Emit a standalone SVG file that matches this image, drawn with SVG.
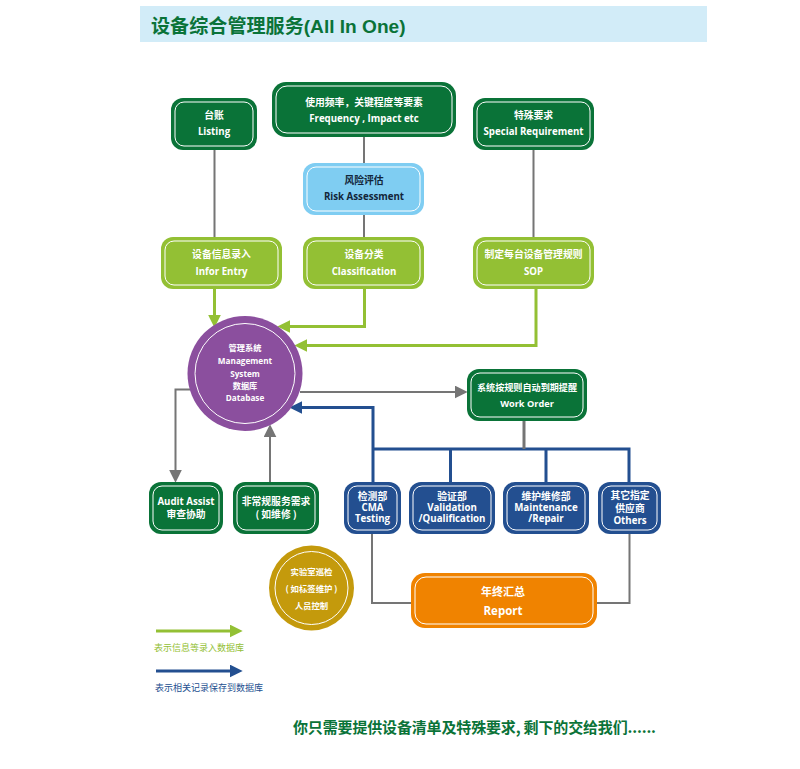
<svg xmlns="http://www.w3.org/2000/svg" width="800" height="769" viewBox="0 0 800 769">
<style>
text{font-family:"Open Sans","Noto Sans CJK SC",sans-serif;font-weight:700;fill:#fff;text-anchor:middle}
.c{font-family:"Noto Sans CJK SC",sans-serif;font-weight:700;font-size:9.800px}
.l{font-size:9.700px}
.in{fill:none;stroke:#fff;stroke-width:1}
.dg{fill:#0a7338}.lg{fill:#93c034}.sb{fill:#7fcdf2}.bl{fill:#234f90}.or{fill:#f08300}
.line{fill:none;stroke-width:2}
.gray{stroke:#757575}.green{stroke:#93c034;stroke-width:3}.blue{stroke:#234f90;stroke-width:3}
</style>
<defs>
<marker id="ag" markerUnits="userSpaceOnUse" markerWidth="13" markerHeight="13" viewBox="0 0 12 12" refX="4" refY="6" orient="auto"><path d="M0 0L12 6L0 12z" fill="#757575"/></marker>
<marker id="al" markerUnits="userSpaceOnUse" markerWidth="13" markerHeight="13" viewBox="0 0 12 12" refX="4" refY="6" orient="auto"><path d="M0 0L12 6L0 12z" fill="#93c034"/></marker>
<marker id="ab" markerUnits="userSpaceOnUse" markerWidth="13" markerHeight="13" viewBox="0 0 12 12" refX="4" refY="6" orient="auto"><path d="M0 0L12 6L0 12z" fill="#234f90"/></marker>
</defs>
<rect width="800" height="769" fill="#fff"/>
<g id="title"><rect x="140" y="6" width="567" height="36" fill="#d2ecf8"/>
<text x="151" y="32.500" style="text-anchor:start;font-family:'Liberation Sans','Noto Sans CJK SC',sans-serif;font-weight:700;font-size:19.100px;fill:#0a7338">设备综合管理服务(All In One)</text></g>
<g id="connectors">
<path class="line gray" d="M214.500 149V237M364 137V163M364 214V237M533.500 149V237"/>
<path class="line green" d="M214.500 289V319" marker-end="url(#al)"/>
<path class="line green" d="M364.500 289V326.500H286" marker-end="url(#al)"/>
<path class="line green" d="M536 289V345.500H303" marker-end="url(#al)"/>
<path class="line gray" d="M300 392H459" marker-end="url(#ag)"/>
<path class="line gray" d="M190 389.500H175.500V474" marker-end="url(#ag)"/>
<path class="line gray" d="M270 482V433" marker-end="url(#ag)"/>
<path class="line blue" d="M373 482V407.500H298" marker-end="url(#ab)"/>
<path class="line blue" d="M373 449H629V482M450.500 449V482M546 449V482"/>
<path class="line gray" style="stroke-width:3" d="M524 421V449"/>
<path class="line gray" d="M372 533V603H411M597 603H629.500V533"/>
</g>
<g id="listing"><rect class="dg" x="171" y="98" width="86" height="52" rx="12"/><rect class="in" x="175" y="102" width="78" height="44" rx="9"/><text class="c" x="214" y="119">台账</text><text class="l" x="214" y="135">Listing</text></g>
<g id="frequency"><rect class="dg" x="272" y="82" width="184" height="55" rx="14"/><rect class="in" x="276" y="86" width="176" height="47" rx="11"/><text class="c" x="364" y="106">使用频率，关键程度等要素</text><text class="l" x="364" y="122">Frequency , Impact etc</text></g>
<g id="special"><rect class="dg" x="473" y="98" width="121" height="52" rx="12"/><rect class="in" x="477" y="102" width="113" height="44" rx="9"/><text class="c" x="533.500" y="119">特殊要求</text><text class="l" x="533.500" y="135">Special Requirement</text></g>
<g id="risk"><rect class="sb" x="303" y="163" width="121" height="52" rx="12"/><rect class="in" x="307" y="167" width="113" height="44" rx="9"/><text class="c" x="364" y="184" style="fill:#12263a">风险评估</text><text class="l" x="364" y="200" style="fill:#12263a">Risk Assessment</text></g>
<g id="infor"><rect class="lg" x="161" y="237" width="121" height="52" rx="12"/><rect class="in" x="165" y="241" width="113" height="44" rx="9"/><text class="c" x="221.500" y="258">设备信息录入</text><text class="l" x="221.500" y="275">Infor Entry</text></g>
<g id="classification"><rect class="lg" x="303" y="237" width="121" height="52" rx="12"/><rect class="in" x="307" y="241" width="113" height="44" rx="9"/><text class="c" x="364" y="258">设备分类</text><text class="l" x="364" y="275">Classification</text></g>
<g id="sop"><rect class="lg" x="473" y="237" width="121" height="52" rx="12"/><rect class="in" x="477" y="241" width="113" height="44" rx="9"/><text class="c" x="533.500" y="258">制定每台设备管理规则</text><text class="l" x="533.500" y="275">SOP</text></g>
<g id="database"><circle cx="245" cy="373.500" r="57.500" fill="#8b4f9e"/><circle class="in" cx="245" cy="373.500" r="50"/>
<text class="c" x="245" y="351" style="font-size:8.200px">管理系统</text><text x="245" y="364" style="font-size:8.200px">Management</text><text x="245" y="376.500" style="font-size:8.200px">System</text><text class="c" x="245" y="388.500" style="font-size:8.200px">数据库</text><text x="245" y="401" style="font-size:8.200px">Database</text></g>
<g id="workorder"><rect class="dg" x="467" y="369" width="120" height="52" rx="12"/><rect class="in" x="471" y="373" width="112" height="44" rx="9"/><text class="c" x="527" y="390.500" style="font-size:9.100px">系统按规则自动到期提醒</text><text class="l" x="527" y="407" style="font-size:9.200px">Work Order</text></g>
<g id="audit"><rect class="dg" x="149" y="482" width="74" height="52" rx="12"/><rect class="in" x="153" y="486" width="66" height="44" rx="9"/><text class="l" x="186" y="504.500">Audit Assist</text><text class="c" x="186" y="517.500">审查协助</text></g>
<g id="unusual"><rect class="dg" x="233" y="482" width="86" height="52" rx="12"/><rect class="in" x="237" y="486" width="78" height="44" rx="9"/><text class="c" x="276" y="504.500">非常规服务需求</text><text class="c" x="276" y="517.500">( 如维修 )</text></g>
<g id="testing"><rect class="bl" x="344" y="482" width="57" height="52" rx="12"/><rect class="in" x="348" y="486" width="49" height="44" rx="9"/><text class="c" x="372.500" y="500">检测部</text><text class="l" x="372.500" y="511">CMA</text><text class="l" x="372.500" y="522">Testing</text></g>
<g id="validation"><rect class="bl" x="409" y="482" width="86" height="52" rx="12"/><rect class="in" x="413" y="486" width="78" height="44" rx="9"/><text class="c" x="452" y="500">验证部</text><text class="l" x="452" y="511">Validation</text><text class="l" x="452" y="522">/Qualification</text></g>
<g id="maintenance"><rect class="bl" x="503" y="482" width="86" height="52" rx="12"/><rect class="in" x="507" y="486" width="78" height="44" rx="9"/><text class="c" x="546" y="500">维护维修部</text><text class="l" x="546" y="511">Maintenance</text><text class="l" x="546" y="522">/Repair</text></g>
<g id="others"><rect class="bl" x="598" y="482" width="63" height="52" rx="12"/><rect class="in" x="602" y="486" width="55" height="44" rx="9"/><text class="c" x="630" y="498.500">其它指定</text><text class="c" x="630" y="511.500">供应商</text><text class="l" x="630" y="524">Others</text></g>
<g id="report"><rect class="or" x="411" y="573" width="186" height="55" rx="14"/><rect class="in" x="415" y="577" width="178" height="47" rx="11"/><text class="c" x="503" y="595.500" style="font-size:11px">年终汇总</text><text class="l" x="503" y="615" style="font-size:11.500px">Report</text></g>
<g id="lab"><circle cx="311.500" cy="588" r="42.500" fill="#c49a0c"/><circle class="in" cx="311.500" cy="588" r="36.500"/>
<text class="c" x="311.500" y="575" style="font-size:8.400px">实验室巡检</text><text class="c" x="311.500" y="591.500" style="font-size:8.400px">( 如标签维护 )</text><text class="c" x="311.500" y="608.500" style="font-size:8.400px">人员控制</text></g>
<g id="legend">
<path class="line green" d="M156 631H234" marker-end="url(#al)"/>
<path class="line blue" d="M156 671H234" marker-end="url(#ab)"/>
<text x="154" y="650.500" style="text-anchor:start;font-family:'Noto Sans CJK SC',sans-serif;font-weight:400;font-size:9px;fill:#93c034">表示信息等录入数据库</text>
<text x="155" y="690.500" style="text-anchor:start;font-family:'Noto Sans CJK SC',sans-serif;font-weight:400;font-size:9px;fill:#234f90">表示相关记录保存到数据库</text>
</g>
<g id="footer"><text x="293" y="732.500" textLength="363" style="text-anchor:start;font-family:'Noto Sans CJK SC',sans-serif;font-weight:700;font-size:15px;fill:#0a7338">你只需要提供设备清单及特殊要求, 剩下的交给我们......</text></g>
</svg>
